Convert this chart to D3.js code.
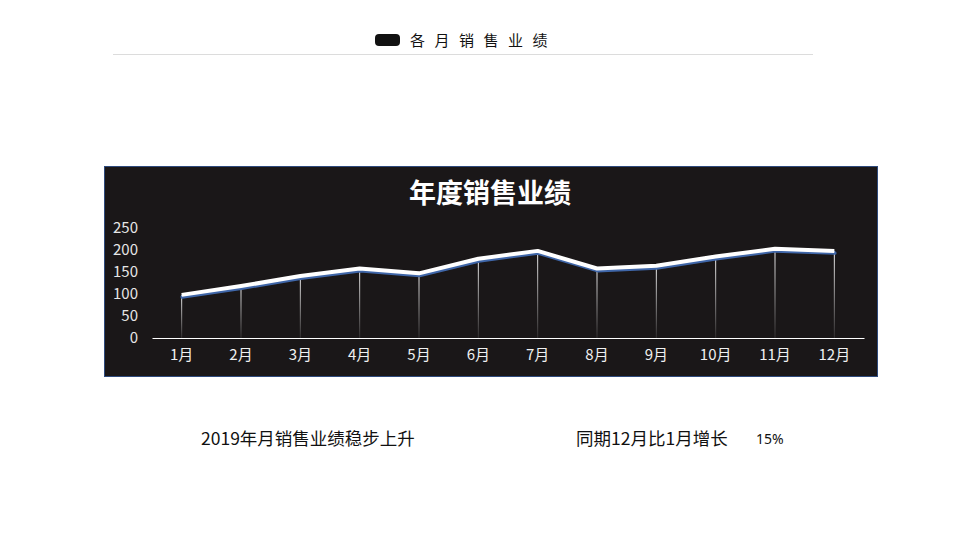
<!DOCTYPE html>
<html>
<head>
<meta charset="utf-8">
<script src="https://cdn.jsdelivr.net/npm/d3@7/dist/d3.min.js"></script>
<style>
  body { margin: 0; background: #fff; }
  svg { display: block; font-family: "Noto Sans CJK SC", "Microsoft YaHei", sans-serif; }
</style>
</head>
<body>
<svg id="chart" width="960" height="548"></svg>
<script>
// 月份 + 销售额
const months = ["1月", "2月", "3月", "4月", "5月", "6月", "7月", "8月", "9月", "10月", "11月", "12月"];
const sales = [98, 118, 141, 158, 147, 180, 198, 158, 164, 185, 203, 198];
const yTicks = [0, 50, 100, 150, 200, 250];

const svg = d3.select("#chart");

// header strip
svg.append("rect")
    .attr("x", 375).attr("y", 34).attr("width", 25).attr("height", 12)
    .attr("rx", 4).attr("fill", "#111");
svg.append("text")
    .attr("x", 410).attr("y", 46)
    .attr("font-size", 15).attr("letter-spacing", "9.5px").attr("fill", "#111")
    .text("各月销售业绩");
svg.append("line")
    .attr("x1", 113).attr("x2", 813).attr("y1", 54.5).attr("y2", 54.5)
    .attr("stroke", "#dcdcdc");

// dark panel
svg.append("rect")
    .attr("x", 104.5).attr("y", 166.5).attr("width", 773).attr("height", 210)
    .attr("fill", "#1a1718").attr("stroke", "#2e4a7c");

svg.append("text")
    .attr("x", 490).attr("y", 203)
    .attr("text-anchor", "middle")
    .attr("font-size", 27).attr("font-weight", "bold").attr("fill", "#fff")
    .text("年度销售业绩");

const x = d3.scaleBand().domain(months).range([152, 864]);
const y = d3.scaleLinear().domain([0, 250]).range([338, 228]);

const defs = svg.append("defs");
const grad = defs.append("linearGradient")
    .attr("id", "dropGrad").attr("x1", 0).attr("y1", 0).attr("x2", 0).attr("y2", 1);
grad.append("stop").attr("offset", "0%").attr("stop-color", "#fff").attr("stop-opacity", 0.95);
grad.append("stop").attr("offset", "100%").attr("stop-color", "#fff").attr("stop-opacity", 0.1);

// y axis labels
const yAxis = svg.append("g")
    .attr("transform", "translate(138,0)")
    .call(d3.axisLeft(y).tickValues(yTicks).tickSize(0).tickPadding(0));
yAxis.select(".domain").remove();
yAxis.selectAll("text")
    .attr("font-size", 15).attr("fill", "#e6e6e6")
    .attr("font-family", "'Noto Sans CJK SC', sans-serif");

// drop lines
const cx = d => x(d) + x.bandwidth() / 2;
svg.append("g").selectAll("rect")
    .data(months)
    .join("rect")
    .attr("x", d => cx(d) - 0.5)
    .attr("y", (d, i) => y(sales[i]))
    .attr("width", 1)
    .attr("height", (d, i) => y(0) - y(sales[i]))
    .attr("fill", "url(#dropGrad)");

// x axis
const xAxis = svg.append("g")
    .attr("transform", "translate(0,338)")
    .call(d3.axisBottom(x).tickSize(0).tickPadding(11));
xAxis.select(".domain").attr("stroke", "#fff").attr("stroke-width", 1.2);
xAxis.selectAll("text")
    .attr("font-size", 15).attr("fill", "#f0f0f0")
    .attr("font-family", "'Noto Sans CJK SC', sans-serif");

// line with blue shadow
const line = d3.line()
    .x((d, i) => cx(months[i]))
    .y(d => y(d));

svg.append("path")
    .datum(sales)
    .attr("d", line)
    .attr("transform", "translate(0.5,2.2)")
    .attr("fill", "none")
    .attr("stroke", "#3f66a8")
    .attr("stroke-width", 3.5)
    .attr("stroke-linejoin", "round")
    .attr("stroke-linecap", "round");

svg.append("path")
    .datum(sales)
    .attr("d", line)
    .attr("fill", "none")
    .attr("stroke", "#fff")
    .attr("stroke-width", 4)
    .attr("stroke-linejoin", "round");

// bottom notes
svg.append("text")
    .attr("x", 201).attr("y", 445)
    .attr("font-size", 17.5).attr("fill", "#111")
    .text("2019年月销售业绩稳步上升");
svg.append("text")
    .attr("x", 576).attr("y", 445)
    .attr("font-size", 17.5).attr("fill", "#111")
    .text("同期12月比1月增长");
svg.append("text")
    .attr("x", 756).attr("y", 444)
    .attr("font-size", 14).attr("fill", "#111")
    .attr("font-family", "'Liberation Sans Narrow', 'Noto Sans', sans-serif")
    .text("15%");
</script>
</body>
</html>
